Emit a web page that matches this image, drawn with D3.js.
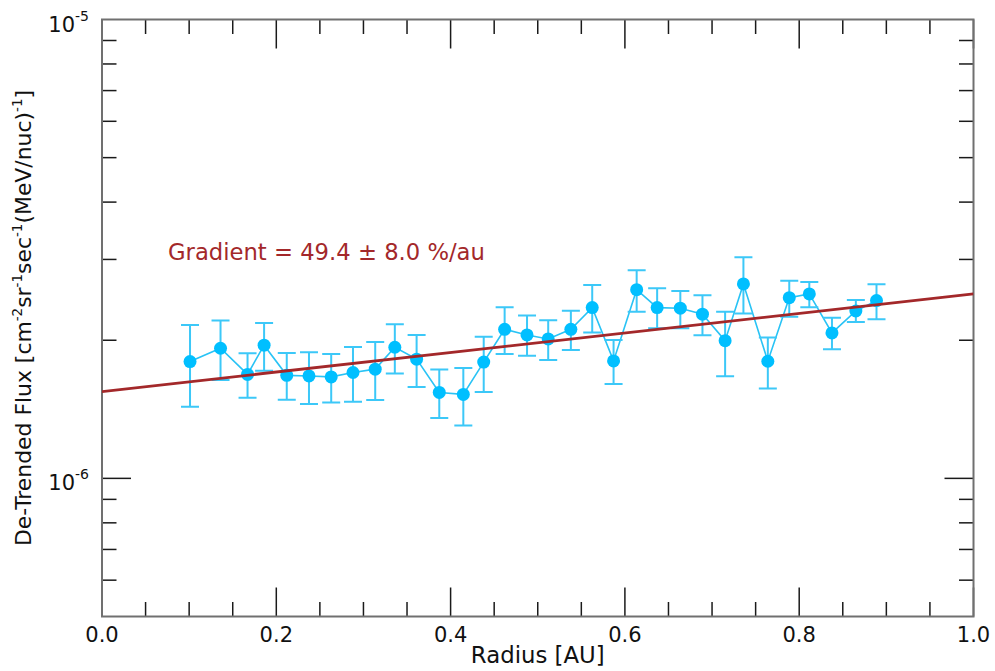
<!DOCTYPE html>
<html>
<head>
<meta charset="utf-8">
<script src="https://cdn.jsdelivr.net/npm/d3@7"></script>
<style>
  body { margin: 0; background: #fff; }
  svg { display: block; font-family: "DejaVu Sans", sans-serif; }
</style>
</head>
<body>
<svg id="chart" width="995" height="671"></svg>
<script>
// radius [AU] of each bin
var radius = [0.101, 0.136, 0.167, 0.186, 0.212, 0.2375, 0.263, 0.288, 0.3135, 0.336, 0.361, 0.387,
    0.4146, 0.438, 0.462, 0.4877, 0.512, 0.538, 0.5625, 0.587, 0.6135, 0.637, 0.6636, 0.689,
    0.715, 0.736, 0.764, 0.7886, 0.8116, 0.8376, 0.865, 0.8887];
// de-trended flux, units of 1e-6
var flux = [1.797, 1.921, 1.685, 1.951, 1.677, 1.672, 1.664, 1.701, 1.730, 1.931, 1.819, 1.539,
    1.524, 1.792, 2.113, 2.054, 2.013, 2.113, 2.356, 1.803, 2.578, 2.356, 2.349, 2.279,
    1.996, 2.653, 1.800, 2.476, 2.523, 2.075, 2.316, 2.440];
var fluxHigh = [2.160, 2.207, 1.874, 2.182, 1.876, 1.883, 1.867, 1.934, 1.983, 2.167, 2.054, 1.726,
    1.740, 2.036, 2.360, 2.263, 2.212, 2.320, 2.640, 2.003, 2.841, 2.597, 2.561, 2.506,
    2.308, 3.033, 2.027, 2.697, 2.680, 2.240, 2.448, 2.649];
var fluxLow = [1.433, 1.639, 1.498, 1.715, 1.483, 1.453, 1.463, 1.468, 1.481, 1.692, 1.582, 1.354,
    1.303, 1.543, 1.867, 1.851, 1.812, 1.905, 2.078, 1.606, 2.308, 2.124, 2.124, 2.051,
    1.670, 2.288, 1.569, 2.251, 2.360, 1.911, 2.193, 2.223];
// fitted exponential trend, end points
var fitRadius = [0.0, 1.0];
var fitFlux = [1.546, 2.523];
var xTickLabels = ["0.0", "0.2", "0.4", "0.6", "0.8", "1.0"];
var yTickExp = ["-5", "-6"];

var svg = d3.select("#chart"),
    margin = {top: 19.5, left: 102, right: 21.5, bottom: 54.5},
    width = 995 - margin.left - margin.right,
    height = 671 - margin.top - margin.bottom;

var x = d3.scaleLinear().domain([0, 1]).range([0, width]);
var y = d3.scaleLog().domain([5e-7, 1e-5]).range([height, 0]);

var g = svg.append("g").attr("transform", "translate(" + margin.left + "," + margin.top + ")");

g.append("clipPath").attr("id", "plotClip")
    .append("rect").attr("width", width).attr("height", height);

// ticks: bottom/top, left/right, all pointing inward
var xMajor = d3.range(0, 6).map(function (i) { return i * 0.2; }),
    xMinor = d3.range(0, 21).map(function (i) { return i * 0.05; })
        .filter(function (v) { return Math.abs(v * 5 - Math.round(v * 5)) > 1e-6; }),
    yMinor = [6e-7, 7e-7, 8e-7, 9e-7, 2e-6, 3e-6, 4e-6, 5e-6, 6e-6, 7e-6, 8e-6, 9e-6],
    majLen = 29, minLen = 14.5;

var ticks = g.append("g").attr("class", "ticks")
    .attr("stroke", "#1a1a1a").attr("stroke-width", 1.5);
function xTicks(vals, len) {
    vals.forEach(function (v) {
        var px = x(v);
        ticks.append("line").attr("x1", px).attr("x2", px).attr("y1", height).attr("y2", height - len);
        ticks.append("line").attr("x1", px).attr("x2", px).attr("y1", 0).attr("y2", len);
    });
}
function yTicks(vals, len) {
    vals.forEach(function (v) {
        var py = y(v);
        ticks.append("line").attr("x1", 0).attr("x2", len).attr("y1", py).attr("y2", py);
        ticks.append("line").attr("x1", width).attr("x2", width - len).attr("y1", py).attr("y2", py);
    });
}
xTicks(xMajor, majLen);
xTicks(xMinor, minLen);
yTicks([1e-6], majLen);
yTicks(yMinor, minLen);

// frame
g.append("rect")
    .attr("width", width).attr("height", height)
    .attr("fill", "none").attr("stroke", "#707070").attr("stroke-width", 2);

// tick labels
g.append("g").selectAll("text")
    .data(xMajor)
    .enter().append("text")
    .attr("x", function (d) { return x(d); })
    .attr("y", height + 25)
    .attr("text-anchor", "middle")
    .attr("font-size", 21)
    .attr("fill", "#111")
    .text(function (d, i) { return xTickLabels[i]; });

var yLab = g.append("g").selectAll("text")
    .data([1e-5, 1e-6])
    .enter().append("text")
    .attr("x", -13)
    .attr("y", function (d) { return y(d) + 12; })
    .attr("text-anchor", "end")
    .attr("font-size", 21)
    .attr("fill", "#111");
yLab.append("tspan").text("10");
yLab.append("tspan").attr("font-size", 14).attr("dy", -11)
    .text(function (d, i) { return yTickExp[i]; });

// axis titles
svg.append("text")
    .attr("x", margin.left + width / 2)
    .attr("y", 663)
    .attr("text-anchor", "middle")
    .attr("font-size", 22.8)
    .attr("fill", "#111")
    .text("Radius [AU]");

var yTitle = svg.append("text")
    .attr("transform", "translate(31," + (margin.top + height / 2) + ") rotate(-90)")
    .attr("text-anchor", "middle")
    .attr("font-size", 21.9)
    .attr("fill", "#111");
[["De-Trended Flux [cm", false], ["-2", true], ["sr", false], ["-1", true], ["sec", false],
    ["-1", true], ["(MeV/nuc)", false], ["-1", true], ["]", false]].forEach(function (p, i, arr) {
    var dy = 0;
    if (p[1]) { dy = -9; }
    else if (i > 0 && arr[i - 1][1]) { dy = 9; }
    yTitle.append("tspan")
        .attr("font-size", p[1] ? 13.5 : 21.9)
        .attr("dy", dy)
        .text(p[0]);
});

var plot = g.append("g").attr("clip-path", "url(#plotClip)");

// data line
var pts = radius.map(function (r, i) { return [r, flux[i] * 1e-6]; });
plot.append("path")
    .datum(pts)
    .attr("fill", "none")
    .attr("stroke", "#29c3f5")
    .attr("stroke-width", 1.6)
    .attr("d", d3.line().x(function (d) { return x(d[0]); }).y(function (d) { return y(d[1]); }));

// error bars
var eb = plot.append("g").attr("stroke", "#3cc8f8").attr("stroke-width", 2).attr("fill", "none");
var cap = 9;
eb.selectAll("path")
    .data(radius)
    .enter().append("path")
    .attr("d", function (r, i) {
        var px = x(r), hi = y(fluxHigh[i] * 1e-6), lo = y(fluxLow[i] * 1e-6);
        return "M" + (px - cap) + "," + hi + "H" + (px + cap) +
            "M" + px + "," + hi + "V" + lo +
            "M" + (px - cap) + "," + lo + "H" + (px + cap);
    });

// markers
plot.append("g").selectAll("circle")
    .data(pts)
    .enter().append("circle")
    .attr("cx", function (d) { return x(d[0]); })
    .attr("cy", function (d) { return y(d[1]); })
    .attr("r", 6.5)
    .attr("fill", "#00bfff");

// fit line
plot.append("line")
    .attr("x1", x(fitRadius[0])).attr("y1", y(fitFlux[0] * 1e-6))
    .attr("x2", x(fitRadius[1])).attr("y2", y(fitFlux[1] * 1e-6))
    .attr("stroke", "#a3282a")
    .attr("stroke-width", 2.8);

g.append("text")
    .attr("x", 66)
    .attr("y", 240)
    .attr("font-size", 22.7)
    .attr("fill", "#a3282a")
    .text("Gradient = 49.4 \u00b1 8.0 %/au");
</script>
</body>
</html>
